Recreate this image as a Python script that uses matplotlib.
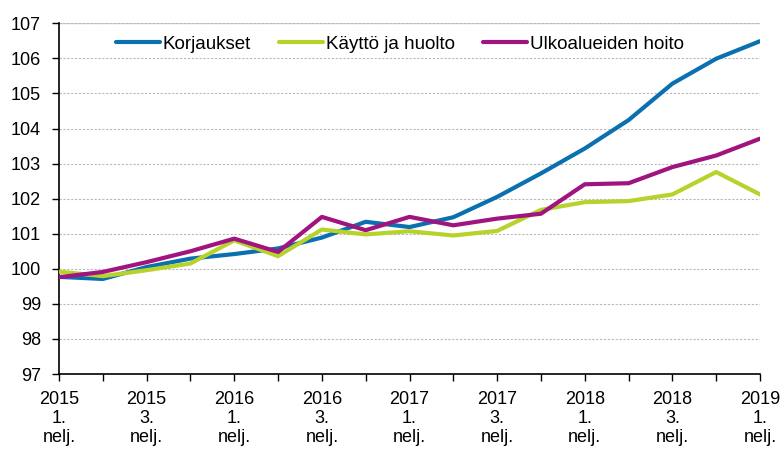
import matplotlib
matplotlib.use("Agg")
import matplotlib.pyplot as plt
from matplotlib.ticker import FixedLocator

plt.rcParams['font.family'] = ['Liberation Sans', 'DejaVu Sans']

quarters = list(range(17))
tick_labels = ["2015\n1.\nnelj.", "2015\n3.\nnelj.", "2016\n1.\nnelj.", "2016\n3.\nnelj.",
               "2017\n1.\nnelj.", "2017\n3.\nnelj.", "2018\n1.\nnelj.", "2018\n3.\nnelj.",
               "2019\n1.\nnelj."]

korjaukset = [99.77, 99.71, 100.05, 100.29, 100.42, 100.58, 100.89, 101.34, 101.19,
              101.47, 102.05, 102.72, 103.43, 104.24, 105.28, 105.99, 106.49]
kaytto = [99.92, 99.79, 99.96, 100.15, 100.81, 100.36, 101.12, 100.98, 101.07,
          100.95, 101.08, 101.68, 101.9, 101.93, 102.12, 102.76, 102.12]
ulko = [99.76, 99.91, 100.19, 100.5, 100.86, 100.48, 101.48, 101.1, 101.48,
        101.24, 101.43, 101.57, 102.41, 102.44, 102.9, 103.23, 103.71]

series_names = ["Korjaukset", "Käyttö ja huolto", "Ulkoalueiden hoito"]
colors = ["#0a70b0", "#b8d22c", "#a0147f"]

fig = plt.figure(figsize=(7.84, 4.51), dpi=100)
ax = fig.add_axes([59/784, 1-374/451, (760-59)/784, (374-23.3)/451])

for vals, name, c in zip([korjaukset, kaytto, ulko], series_names, colors):
    ax.plot(quarters, vals, color=c, lw=3.0, label=name, solid_capstyle='round', zorder=3)

ax.set_xlim(0, 16)
ax.set_ylim(97, 107)
ax.set_yticks(range(97, 108))
ax.set_yticklabels([str(v) for v in range(97, 108)])
ax.xaxis.set_major_locator(FixedLocator(list(range(0, 17, 2))))
ax.set_xticklabels(tick_labels)
ax.xaxis.set_minor_locator(FixedLocator(list(range(1, 17, 2))))

ax.grid(axis='y', color='#b8b8b8', linestyle=(0, (2, 1.5)), linewidth=0.8, zorder=0)
ax.spines['top'].set_visible(False)
ax.spines['right'].set_visible(False)
ax.spines['left'].set_color('black')
ax.spines['bottom'].set_color('black')
ax.spines['left'].set_linewidth(1.2)
ax.spines['bottom'].set_linewidth(1.2)
ax.tick_params(axis='y', direction='out', length=5, width=1, labelsize=13, pad=8, colors='black')
ax.tick_params(axis='x', which='both', direction='out', length=5, width=1, labelsize=13, pad=7)
for lbl in ax.get_xticklabels():
    lbl.set_linespacing(1.17)
ax.axhline(107, color='#cccccc', lw=1.0, zorder=0)

leg = ax.legend(loc='center', bbox_to_anchor=(0.486, 0.941), ncol=3, frameon=False,
                fontsize=13.5, handlelength=2.35, handletextpad=0.15, columnspacing=1.5)

fig.savefig("out.png", dpi=100)
